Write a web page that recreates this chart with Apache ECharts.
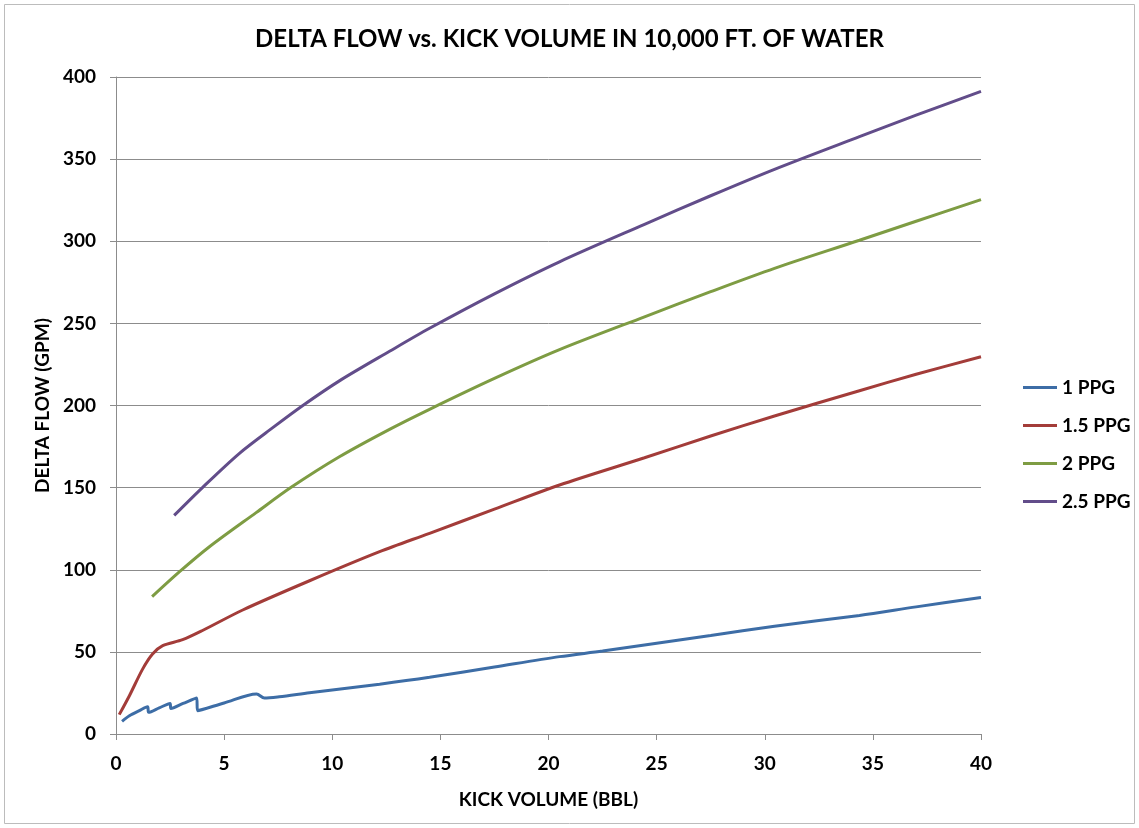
<!DOCTYPE html>
<html>
<head>
<meta charset="utf-8">
<title>Delta Flow vs. Kick Volume</title>
<script src="https://cdn.jsdelivr.net/npm/echarts@6/dist/echarts.min.js"></script>
<style>
  html, body { margin: 0; padding: 0; background: #ffffff; }
  #chart { width: 1139px; height: 828px; }
</style>
</head>
<body>
<div id="chart"></div>
<script>
// Kick volume (bbl) / delta flow (gpm) pairs for each kick intensity
const ppg1 = [
  [0.28, 7.7], [0.62, 11.1], [1.08, 14.2], [1.46, 16.6], [1.51, 13.2],
  [2.0, 15.9], [2.5, 18.6], [2.54, 15.6], [3.1, 18.6], [3.73, 21.9],
  [3.77, 14.2], [5.0, 18.9], [6.5, 24.4], [6.86, 21.9], [7.55, 22.7], [8.95, 25.1],
  [12.19, 30.3], [14.5, 34.5], [17.5, 40.8], [20.51, 47.1], [22.5, 50.5],
  [24.44, 54.2], [27.5, 60.0], [30.45, 65.6], [34.38, 72.2], [37, 77.4], [40, 83.1]
];
const ppg15 = [
  [0.15, 11.8], [0.62, 23.3], [1.23, 39.5], [1.69, 48.7], [2.16, 53.8],
  [3.08, 57.4], [4.0, 63.0], [5.86, 75.5], [8.95, 93.3], [12.19, 111.0],
  [14.5, 122.2], [17.5, 136.9], [20.51, 151.6], [24.44, 168.2], [27.5, 181.4],
  [30.45, 193.6], [34.38, 209.0], [37, 219.0], [40, 229.7]
];
const ppg2 = [
  [1.67, 83.6], [2.94, 98.8], [4.32, 114.0], [6.48, 134.8], [8.1, 150.2],
  [10.33, 168.8], [12.65, 185.5], [14.5, 197.7], [17.5, 216.5], [20.51, 234.0],
  [24.44, 254.0], [27.5, 269.3], [30.45, 283.5], [34.38, 300.6], [37, 312.2], [40, 325.3]
];
const ppg25 = [
  [2.69, 133.1], [4.01, 150.2], [5.71, 170.9], [7.25, 186.5], [8.64, 200.0],
  [10.33, 215.0], [12.65, 233.0], [14.5, 247.0], [17.5, 268.0], [20.51, 287.5],
  [24.44, 310.3], [27.5, 327.7], [30.45, 343.8], [34.38, 363.7], [37, 376.8], [40, 391.2]
];

const seriesNames = ['1 PPG', '1.5 PPG', '2 PPG', '2.5 PPG'];
const seriesData = [ppg1, ppg15, ppg2, ppg25];
const seriesColors = ['#3D6DA6', '#A33C39', '#7E9C43', '#624D8A'];

const chart = echarts.init(document.getElementById('chart'), null, { renderer: 'canvas' });

const FONT = 'Lato, "Open Sans", sans-serif';
const GRID_GREY = '#8c8c8c';

chart.setOption({
  backgroundColor: '#ffffff',
  animation: false,
  title: {
    text: 'DELTA FLOW vs. KICK VOLUME IN 10,000 FT. OF WATER',
    left: 'center',
    top: 22,
    textStyle: { fontFamily: FONT, fontWeight: 'bold', fontSize: 24, color: '#000' }
  },
  legend: {
    orient: 'vertical',
    left: 1018,
    top: 373,
    itemWidth: 34,
    itemHeight: 3,
    itemGap: 19,
    icon: 'rect',
    data: seriesNames,
    textStyle: { fontFamily: FONT, fontWeight: 'bold', fontSize: 19, color: '#000' }
  },
  grid: { left: 116, top: 77, right: 158, bottom: 94, containLabel: false },
  xAxis: {
    type: 'value',
    min: 0, max: 40, interval: 5,
    name: 'KICK VOLUME (BBL)',
    nameLocation: 'middle',
    nameGap: 56,
    nameTextStyle: { fontFamily: FONT, fontWeight: 'bold', fontSize: 19, color: '#000' },
    axisLine: { show: true, lineStyle: { color: GRID_GREY, width: 1 } },
    axisTick: { show: true, inside: false, length: 6, lineStyle: { color: GRID_GREY } },
    splitLine: { show: false },
    axisLabel: { fontFamily: FONT, fontWeight: 'bold', fontSize: 19, color: '#000', margin: 20 }
  },
  yAxis: {
    type: 'value',
    min: 0, max: 400, interval: 50,
    name: 'DELTA FLOW (GPM)',
    nameLocation: 'middle',
    nameGap: 64,
    nameTextStyle: { fontFamily: FONT, fontWeight: 'bold', fontSize: 19, color: '#000' },
    axisLine: { show: true, lineStyle: { color: GRID_GREY, width: 1 } },
    axisTick: { show: true, inside: false, length: 6, lineStyle: { color: GRID_GREY } },
    splitLine: { show: true, lineStyle: { color: GRID_GREY, width: 1 } },
    axisLabel: { fontFamily: FONT, fontWeight: 'bold', fontSize: 19, color: '#000', margin: 20 }
  },
  series: seriesData.map((d, i) => ({
    name: seriesNames[i],
    type: 'line',
    data: d,
    smooth: 0.3,
    showSymbol: false,
    symbol: 'none',
    lineStyle: { color: seriesColors[i], width: 3 },
    itemStyle: { color: seriesColors[i] }
  })),
  graphic: [{
    type: 'rect',
    shape: { x: 4.5, y: 4.5, width: 1130, height: 819 },
    style: { fill: 'none', stroke: '#bcbcbc', lineWidth: 1 },
    silent: true,
    z: -1
  }]
});
</script>
</body>
</html>
